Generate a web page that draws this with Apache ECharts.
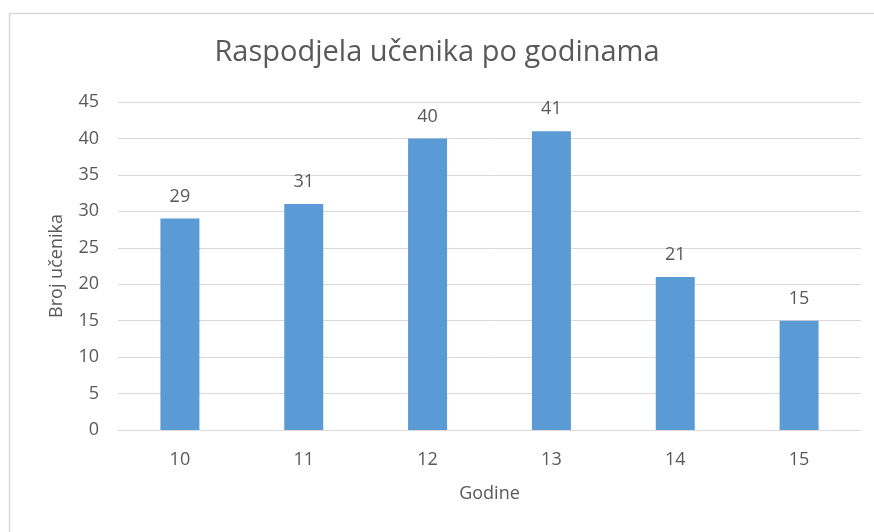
<!DOCTYPE html>
<html>
<head>
<meta charset="utf-8">
<script src="https://cdn.jsdelivr.net/npm/echarts@6/dist/echarts.min.js"></script>
<style>html,body{margin:0;padding:0;background:#fff}#c{width:874px;height:532px}</style>
</head>
<body>
<div id="c"></div>
<script>
const categories = ['10', '11', '12', '13', '14', '15'];
const values = [29, 31, 40, 41, 21, 15];
const titleText = 'Raspodjela učenika po godinama';
const xName = 'Godine';
const yName = 'Broj učenika';

const FONT = '"Open Sans", sans-serif';
const TXT = '#595959';
const chart = echarts.init(document.getElementById('c'), null, {renderer: 'canvas'});
chart.setOption({
  animation: false,
  backgroundColor: '#fff',
  graphic: [{
    type: 'rect', left: 7, top: 11, z: -1,
    shape: {width: 900, height: 600},
    style: {fill: 'none', stroke: '#d9d9d9', lineWidth: 1.5}
  }],
  title: {
    text: titleText, left: 'center', top: 33,
    textStyle: {fontFamily: FONT, fontSize: 29, fontWeight: 'normal', color: TXT}
  },
  grid: {left: 118, right: 13, top: 102, bottom: 102},
  xAxis: {
    type: 'category', data: categories,
    name: xName, nameLocation: 'middle', nameGap: 55,
    nameTextStyle: {fontFamily: FONT, fontSize: 18, color: TXT},
    axisLine: {show: true, lineStyle: {color: '#d9d9d9', width: 1}},
    axisTick: {show: false},
    axisLabel: {fontFamily: FONT, fontSize: 18, color: TXT, margin: 21}
  },
  yAxis: {
    type: 'value', min: 0, max: 45, interval: 5,
    name: yName, nameLocation: 'middle', nameGap: 52, nameRotate: 90,
    nameTextStyle: {fontFamily: FONT, fontSize: 18, color: TXT},
    axisLine: {show: false}, axisTick: {show: false},
    axisLabel: {fontFamily: FONT, fontSize: 18, color: TXT, margin: 19},
    splitLine: {lineStyle: {color: '#d9d9d9', width: 1}}
  },
  series: [{
    type: 'bar', data: values, barWidth: 39,
    itemStyle: {color: '#5b9bd5'},
    label: {show: true, position: 'top', distance: 13, fontFamily: FONT, fontSize: 18, color: TXT}
  }]
});
</script>
</body>
</html>
